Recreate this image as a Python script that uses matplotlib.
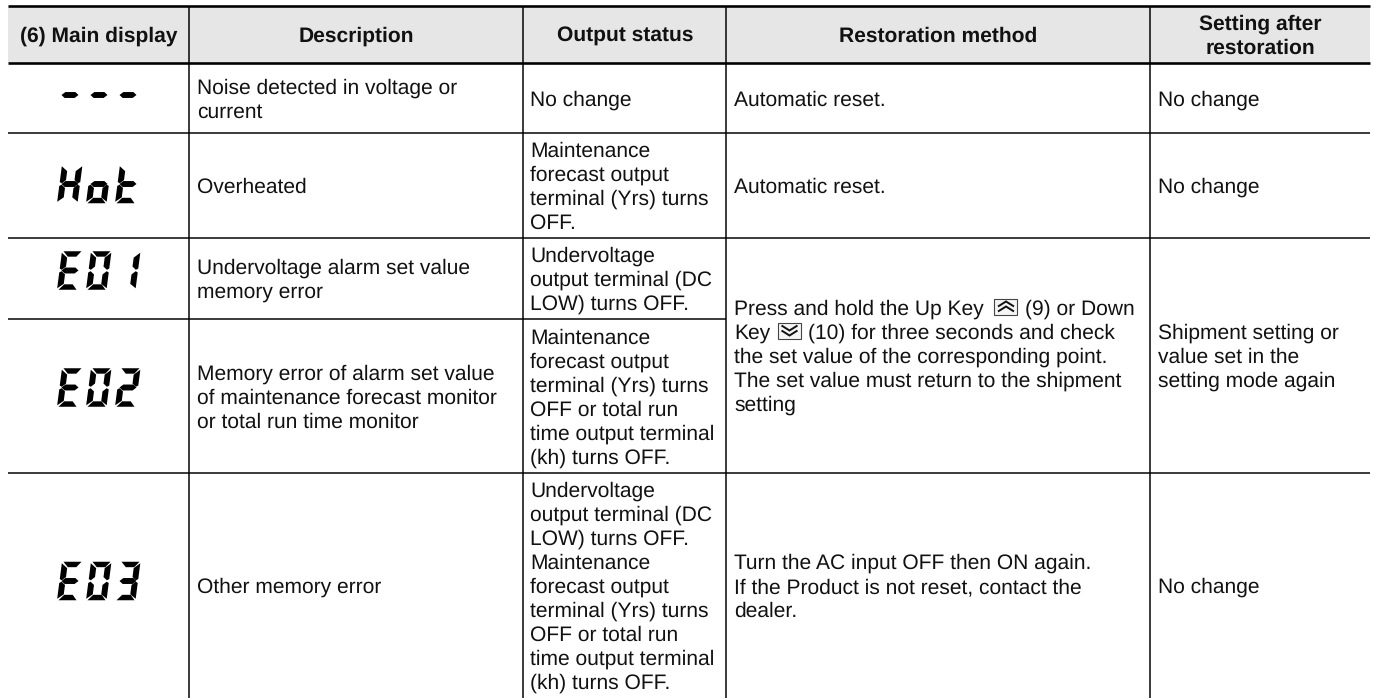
import matplotlib
matplotlib.use("Agg")
import matplotlib.pyplot as plt
from matplotlib.patches import Polygon, Rectangle

W, H = 1375, 698

headers = ["(6) Main display", "Description", "Output status", "Restoration method", "Setting after\nrestoration"]
displays = ["---", "Hot", "E01", "E02", "E03"]
descriptions = [
    "Noise detected in voltage or\ncurrent",
    "Overheated",
    "Undervoltage alarm set value\nmemory error",
    "Memory error of alarm set value\nof maintenance forecast monitor\nor total run time monitor",
    "Other memory error",
]
outputs = [
    "No change",
    "Maintenance\nforecast output\nterminal (Yrs) turns\nOFF.",
    "Undervoltage\noutput terminal (DC\nLOW) turns OFF.",
    "Maintenance\nforecast output\nterminal (Yrs) turns\nOFF or total run\ntime output terminal\n(kh) turns OFF.",
    "Undervoltage\noutput terminal (DC\nLOW) turns OFF.\nMaintenance\nforecast output\nterminal (Yrs) turns\nOFF or total run\ntime output terminal\n(kh) turns OFF.",
]
restoration = [
    "Automatic reset.",
    "Automatic reset.",
    None,
    None,
    "Turn the AC input OFF then ON again.\nIf the Product is not reset, contact the\ndealer.",
]
merged_restoration = [
    ["Press and hold the Up Key", "up", "(9) or Down"],
    ["Key", "down", "(10) for three seconds and check"],
    ["the set value of the corresponding point."],
    ["The set value must return to the shipment"],
    ["setting"],
]
after = ["No change", "No change", None, None, "No change"]
merged_after = "Shipment setting or\nvalue set in the\nsetting mode again"

# ---- layout (pixels) ----
X = [8, 189, 523, 726.5, 1150, 1370]
Y = [6, 63, 133, 238, 319, 473, 698]
DISPLAY_CY = [95, 184, 270.5, 387.5, 581]
DISPLAY_X0 = 57
PITCH = 29
LH = 24
PAD = 8
FS = 15.15
INK = "#111111"

plt.rcParams["font.family"] = ["Liberation Sans", "DejaVu Sans"]
plt.rcParams["text.hinting"] = "none"
plt.rcParams["text.hinting_factor"] = 1
fig = plt.figure(figsize=(W / 100, H / 100), dpi=100)
ax = fig.add_axes([0, 0, 1, 1])
ax.set_xlim(0, W)
ax.set_ylim(H, 0)
ax.axis("off")

ax.add_patch(Rectangle((X[0], Y[0]), X[-1] - X[0], Y[1] - Y[0], fc="#E6E6E6", ec="none", zorder=0))

SEG_H = 38.5
SKEW = 5
SEGS = {
    "a": [(1.5, 0), (19.5, 0), (15, 5.5), (6.5, 5.5)],
    "b": [(20.5, 1.5), (20.5, 17.5), (18.3, 18.8), (14.5, 15.5), (14.5, 6.5)],
    "c": [(20.5, 21.5), (20.5, 37.5), (14.5, 33), (14.5, 23.5), (18.3, 20.2)],
    "d": [(6.5, 33.5), (15, 33.5), (19.5, 39), (1.5, 39)],
    "e": [(0, 21.5), (2.2, 20.2), (6, 23.5), (6, 33), (0, 37.5)],
    "f": [(0, 1.5), (6, 6.5), (6, 15.5), (2.2, 18.8), (0, 17.5)],
    "g": [(2, 19.5), (5.5, 16.5), (15.5, 16.5), (19, 19.5), (15.5, 22.5), (5.5, 22.5)],
}
CHARS = {"E": "afged", "0": "abcdef", "1": "bc", "2": "abged", "3": "abgcd",
         "H": "fbgec", "o": "gcde", "t": "fegd", "O": "abcdef", "-": "g"}


def draw_seven(text, cy):
    top = cy - SEG_H / 2
    for i, ch in enumerate(text):
        x0 = DISPLAY_X0 + i * PITCH
        for s in CHARS[ch]:
            pts = [(x0 + px + SKEW * (1 - py / 39), top + py * SEG_H / 39) for px, py in SEGS[s]]
            ax.add_patch(Polygon(pts, closed=True, fc="#000000", ec="none", zorder=3))


def txt(x, y, s, **kw):
    kw.setdefault("fontsize", FS)
    kw.setdefault("color", INK)
    kw.setdefault("va", "baseline")
    ax.text(x, y, s, zorder=4, **kw)


def block(s, x, y0, y1):
    lines = s.split("\n")
    mid = (y0 + y1) / 2
    n = len(lines)
    for i, line in enumerate(lines):
        txt(x, mid + (i - (n - 1) / 2) * LH + 7.5, line)


def hline(y, x0, x1, lw=1.5):
    ax.plot([x0, x1], [y, y], color="#000000", lw=lw * 0.72, solid_capstyle="butt", zorder=2)


def vline(x, y0, y1, lw=1.5):
    ax.plot([x, x], [y0, y1], color="#000000", lw=lw * 0.72, solid_capstyle="butt", zorder=2)


hline(Y[0], X[0], X[-1], 2.6)
hline(Y[1], X[0], X[-1], 2.6)
hline(Y[2], X[0], X[-1])
hline(Y[3], X[0], X[-1])
hline(Y[4], X[0], X[3])
hline(Y[5], X[0], X[-1])
for x in X[1:-1]:
    vline(x, Y[0], H)

for j, h in enumerate(headers):
    cx = (X[j] + X[j + 1]) / 2
    lines = h.split("\n")
    mid = (Y[0] + Y[1]) / 2
    for i, line in enumerate(lines):
        txt(cx, mid + (i - (len(lines) - 1) / 2) * LH + 7.5, line, ha="center", fontweight="bold")

for r in range(5):
    y0, y1 = Y[r + 1], Y[r + 2]
    draw_seven(displays[r], DISPLAY_CY[r])
    block(descriptions[r], X[1] + PAD, y0, y1)
    block(outputs[r], 530, y0, y1)
    if restoration[r]:
        block(restoration[r], 734, y0, y1)
    if after[r]:
        block(after[r], X[4] + PAD, y0, y1)

block(merged_after, X[4] + PAD, Y[3], Y[5])


def key_icon(x, y, up):
    ax.add_patch(Rectangle((x, y), 23, 16.5, fc="#F5F5F5", ec="#444444", lw=0.8, zorder=3))
    cx = x + 11.5
    for k in (0, 5):
        if up:
            pts = [(cx - 8, y + 8 + k), (cx, y + 3 + k), (cx + 8, y + 8 + k)]
        else:
            pts = [(cx - 8, y + 3 + k), (cx, y + 8 + k), (cx + 8, y + 3 + k)]
        xs, ys = zip(*pts)
        ax.plot(xs, ys, color="#111111", lw=1.4, zorder=4, solid_joinstyle="miter", solid_capstyle="butt")


AFTER_ICON_X = [1025.5, 808.5]
ICON_X = [994.5, 778]
mid = (Y[3] + Y[5]) / 2
for i, parts in enumerate(merged_restoration):
    by = mid + (i - 2) * LH + 7.5
    txt(734, by, parts[0])
    if len(parts) > 1:
        key_icon(ICON_X[i], by - 16.5, parts[1] == "up")
        txt(AFTER_ICON_X[i], by, parts[2])

fig.savefig("out.png", dpi=100, facecolor="white")
